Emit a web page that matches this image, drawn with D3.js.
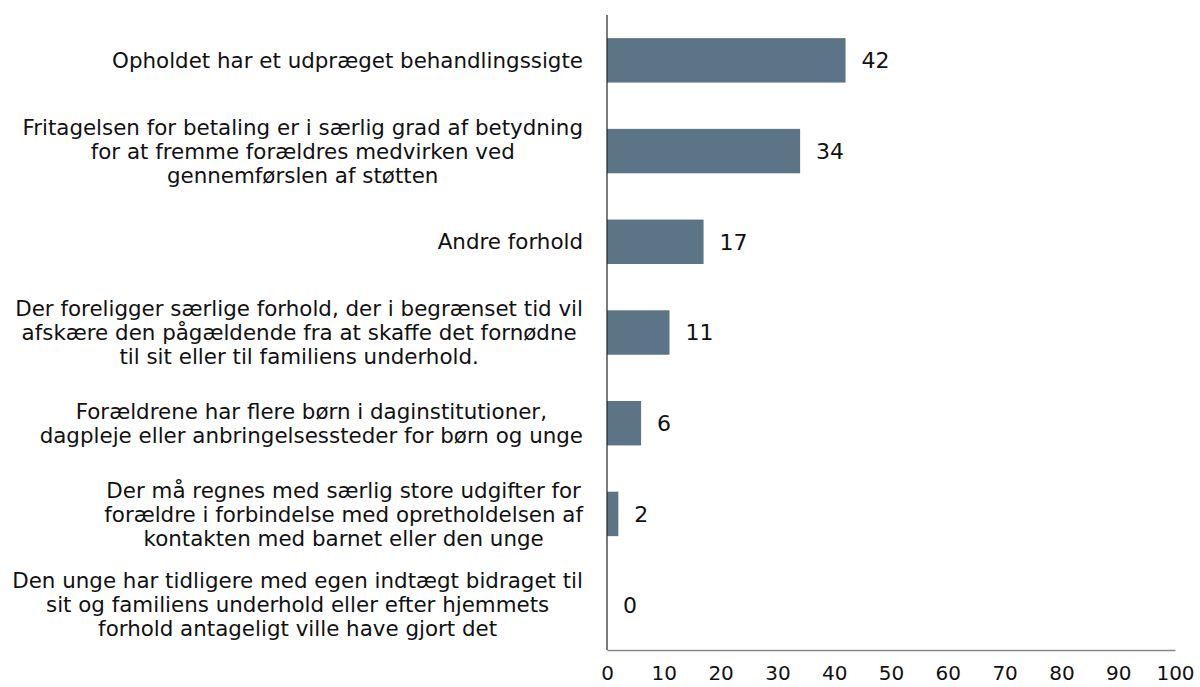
<!DOCTYPE html>
<html>
<head>
<meta charset="utf-8">
<script src="https://cdn.jsdelivr.net/npm/d3@7"></script>
<style>
  body { margin: 0; background: #fff; }
  text { font-family: "DejaVu Sans", Verdana, sans-serif; fill: #111; }
</style>
</head>
<body>
<div id="graph-wrapper"></div>
<script>
// categories, each split into its lines as in the picture
const categories = [
  ["Opholdet har et udpræget behandlingssigte"],
  ["Fritagelsen for betaling er i særlig grad af betydning", "for at fremme forældres medvirken ved", "gennemførslen af støtten"],
  ["Andre forhold"],
  ["Der foreligger særlige forhold, der i begrænset tid vil", "afskære den pågældende fra at skaffe det fornødne", "til sit eller til familiens underhold."],
  ["Forældrene har flere børn i daginstitutioner,", "dagpleje eller anbringelsessteder for børn og unge"],
  ["Der må regnes med særlig store udgifter for", "forældre i forbindelse med opretholdelsen af", "kontakten med barnet eller den unge"],
  ["Den unge har tidligere med egen indtægt bidraget til", "sit og familiens underhold eller efter hjemmets", "forhold antageligt ville have gjort det"]
];
const values = [42, 34, 17, 11, 6, 2, 0];
const xTicks = [0, 10, 20, 30, 40, 50, 60, 70, 80, 90, 100];

function drawChart() {
  const width = 1200;
  const height = 687;
  const marginTop = 15;
  const marginBottom = 37;
  const marginLeft = 607;
  const marginRight = 25;

  const x = d3.scaleLinear().domain([0, 100]).range([marginLeft, width - marginRight]);
  const y = d3.scaleBand()
    .domain(d3.range(values.length))
    .range([marginTop, height - marginBottom])
    .paddingInner(0.51)
    .paddingOuter(0.255);

  const svg = d3.select("#graph-wrapper").append("svg")
    .attr("width", width)
    .attr("height", height);

  // bars
  svg.append("g")
    .selectAll("rect")
    .data(values)
    .join("rect")
    .attr("x", x(0))
    .attr("y", (d, i) => y(i))
    .attr("width", d => x(d) - x(0))
    .attr("height", y.bandwidth())
    .attr("fill", "#5b7586");

  // value labels
  svg.append("g")
    .selectAll("text")
    .data(values)
    .join("text")
    .attr("x", d => x(d) + 16)
    .attr("y", (d, i) => y(i) + y.bandwidth() / 2)
    .attr("dy", "0.36em")
    .style("font-size", "22px")
    .text(d => d);

  // category labels: lines centred on each other, block right aligned
  const labelRight = 583;
  const lineH = 24;
  const lab = svg.append("g");
  categories.forEach((lines, i) => {
    const g = lab.append("g");
    const cy = y(i) + y.bandwidth() / 2;
    const texts = lines.map((l, j) => g.append("text")
      .attr("y", cy + (j - (lines.length - 1) / 2) * lineH)
      .attr("dy", "0.36em")
      .attr("text-anchor", "middle")
      .style("font-size", "21.4px")
      .text(l));
    const maxW = d3.max(texts, t => t.node().getComputedTextLength());
    texts.forEach(t => t.attr("x", labelRight - maxW / 2));
  });

  // x axis
  const xAxis = d3.axisBottom(x).tickValues(xTicks).tickSize(0).tickPadding(16);
  const gx = svg.append("g")
    .attr("transform", `translate(0,${height - marginBottom})`)
    .call(xAxis);
  gx.select(".domain").attr("stroke", "#888").attr("stroke-width", 1.5);
  gx.selectAll("text").style("font-size", "20px").attr("fill", "#111");

  // y axis line
  svg.append("line")
    .attr("x1", x(0)).attr("x2", x(0))
    .attr("y1", marginTop).attr("y2", height - marginBottom)
    .attr("stroke", "#222")
    .attr("stroke-width", 1.2);
}

if (document.readyState !== 'loading') {
  drawChart();
} else { document.addEventListener("DOMContentLoaded", () => drawChart()) }
</script>
</body>
</html>
